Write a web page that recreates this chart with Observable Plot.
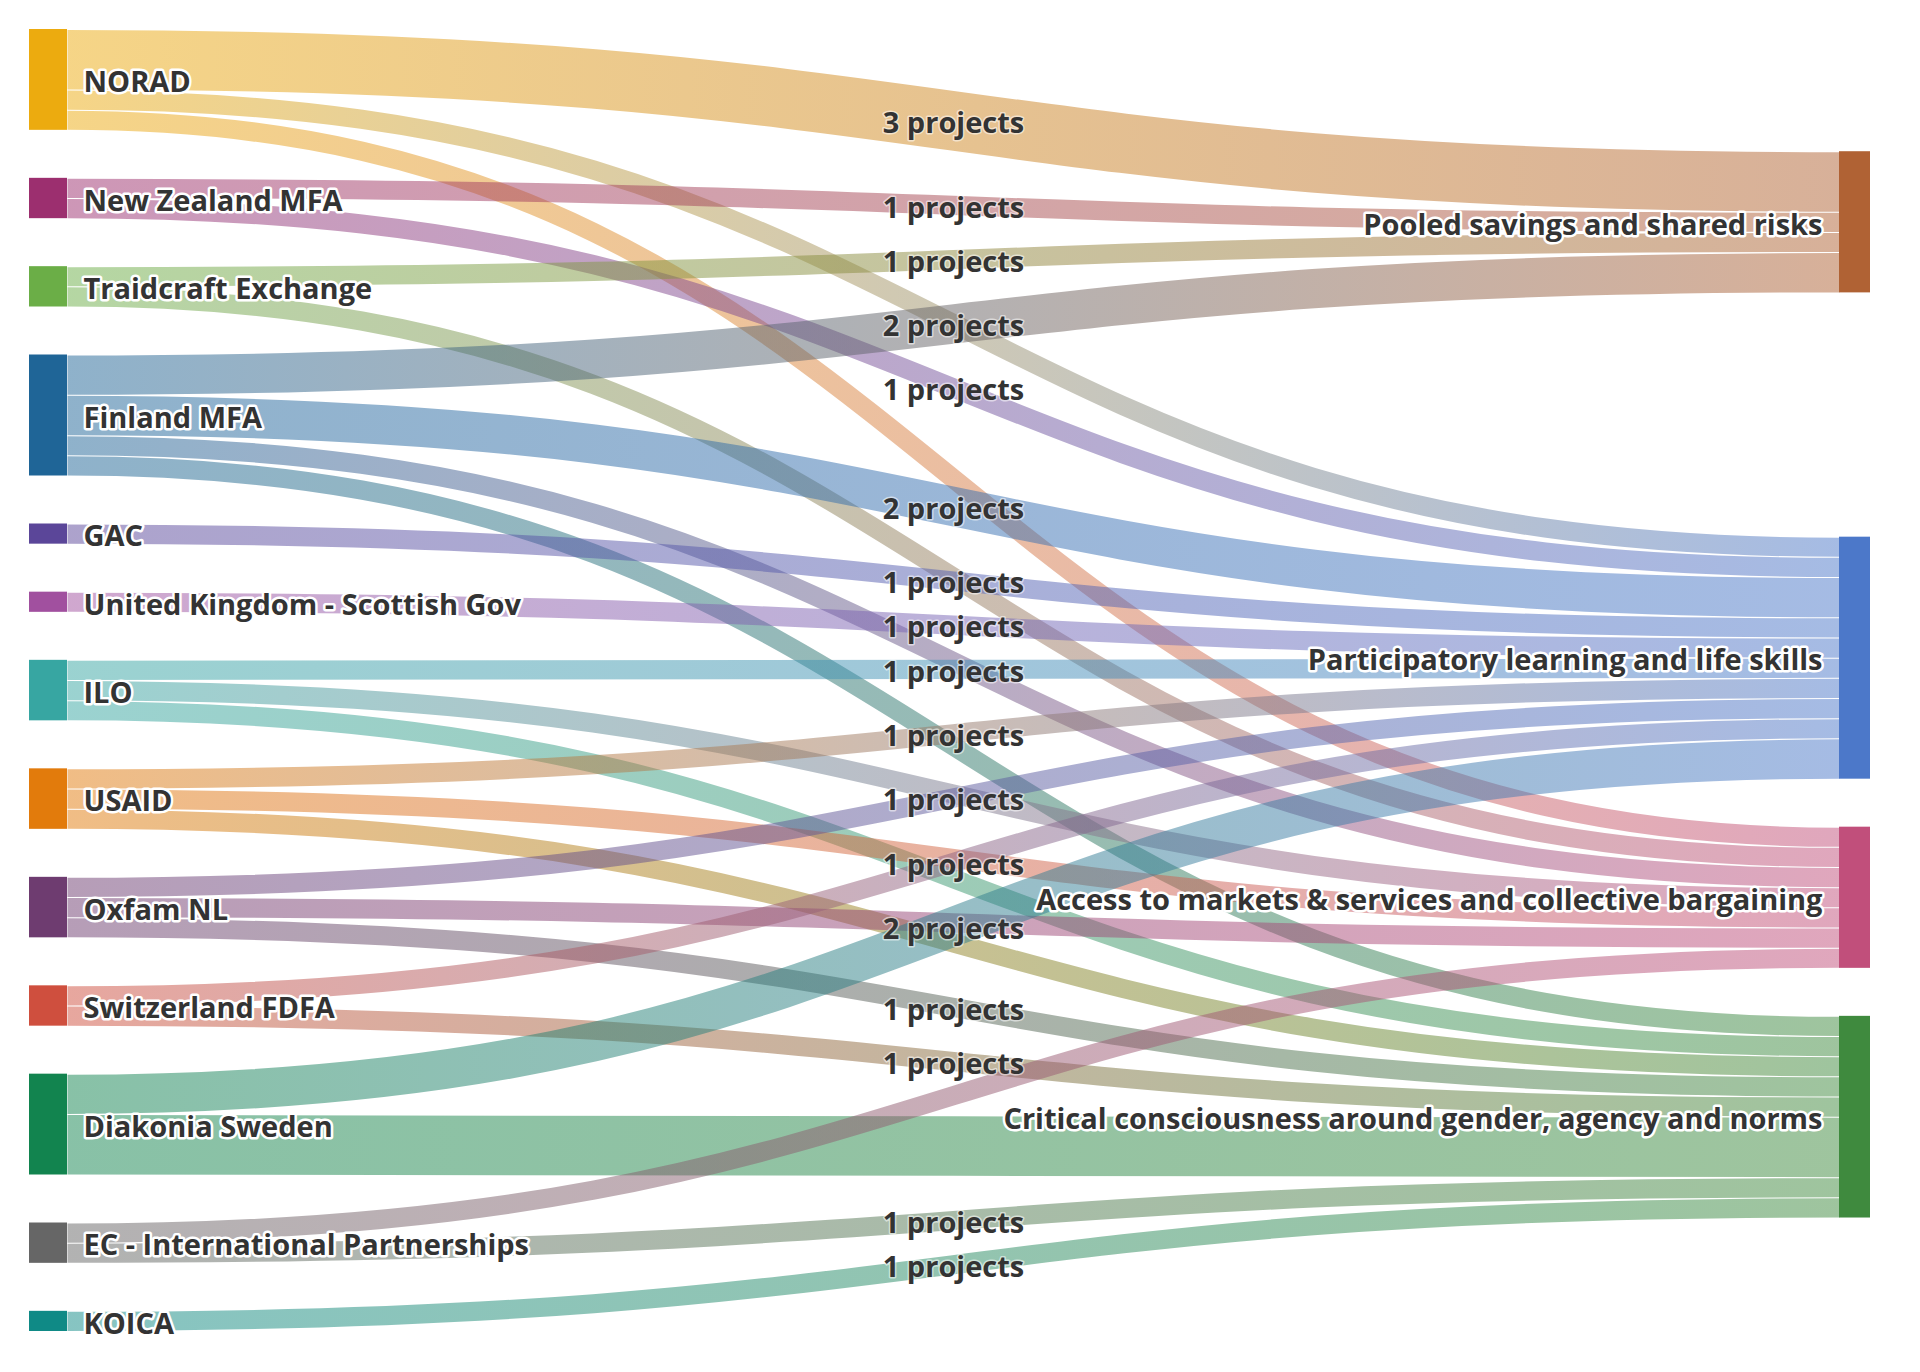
<!DOCTYPE html>
<html>
<head>
<meta charset="utf-8">
<script src="https://cdn.jsdelivr.net/npm/d3@7"></script>
<script src="https://cdn.jsdelivr.net/npm/@observablehq/plot@0.6"></script>
<style>
  html, body { margin: 0; padding: 0; background: #ffffff; }
  #chart svg { display: block; }
</style>
</head>
<body>
<div id="chart"></div>
<script>
// ---------------- DATA ----------------
const sourceNames = [
  "NORAD", "New Zealand MFA", "Traidcraft Exchange", "Finland MFA", "GAC",
  "United Kingdom - Scottish Gov", "ILO", "USAID", "Oxfam NL", "Switzerland FDFA",
  "Diakonia Sweden", "EC - International Partnerships", "KOICA"
];
const sourceColors = [
  "#ECAB0F", "#9C2F6F", "#6BAE47", "#1F6597", "#5B4699",
  "#A1509F", "#37A6A2", "#E27B0C", "#6E3C70", "#CF4F3E",
  "#12844F", "#666666", "#0F8A86"
];
const targetNames = [
  "Pooled savings and shared risks",
  "Participatory learning and life skills",
  "Access to markets & services and collective bargaining",
  "Critical consciousness around gender, agency and norms"
];
const targetColors = ["#B06234", "#4C78C9", "#C14F7B", "#3F8A3E"];

const PS = targetNames[0], PL = targetNames[1], AM = targetNames[2], CC = targetNames[3];
const linkSource = [
  "NORAD", "NORAD", "NORAD",
  "New Zealand MFA", "New Zealand MFA",
  "Traidcraft Exchange", "Traidcraft Exchange",
  "Finland MFA", "Finland MFA", "Finland MFA", "Finland MFA",
  "GAC",
  "United Kingdom - Scottish Gov",
  "ILO", "ILO", "ILO",
  "USAID", "USAID", "USAID",
  "Oxfam NL", "Oxfam NL", "Oxfam NL",
  "Switzerland FDFA", "Switzerland FDFA",
  "Diakonia Sweden", "Diakonia Sweden",
  "EC - International Partnerships", "EC - International Partnerships",
  "KOICA"
];
const linkTarget = [
  PS, PL, AM,
  PS, PL,
  PS, AM,
  PS, PL, AM, CC,
  PL,
  PL,
  PL, AM, CC,
  PL, AM, CC,
  PL, AM, CC,
  PL, CC,
  PL, CC,
  AM, CC,
  CC
];
const linkProjects = [
  3, 1, 1,
  1, 1,
  1, 1,
  2, 2, 1, 1,
  1,
  1,
  1, 1, 1,
  1, 1, 1,
  1, 1, 1,
  1, 1,
  2, 3,
  1, 1,
  1
];

// ---------------- STYLE ----------------
const W = 1920, H = 1372;
const extentTop = 29, extentBottom = 1331;
const nodePadding = 48;
const leftNodeWidth = 38, rightNodeWidth = 31;
const xLeft = 67, xRight = 1839;
const fontFamily = "'Open Sans', Lato, sans-serif";
const labelSize = 29;
const textColor = "#333333";

// ---------------- LAYOUT (sankey) ----------------
const nodes = [
  ...sourceNames.map((name, i) => ({name, color: sourceColors[i], col: 0, index: i})),
  ...targetNames.map((name, i) => ({name, color: targetColors[i], col: 1, index: i}))
];
const byKey = new Map(nodes.map(n => [n.col + "|" + n.name, n]));
const links = linkProjects.map((value, i) => ({
  i, value,
  source: byKey.get("0|" + linkSource[i]),
  target: byKey.get("1|" + linkTarget[i])
}));
for (const n of nodes) {
  n.out = links.filter(l => l.source === n);
  n.in = links.filter(l => l.target === n);
  n.value = Math.max(d3.sum(n.out, l => l.value), d3.sum(n.in, l => l.value));
}
const columns = [nodes.filter(n => n.col === 0), nodes.filter(n => n.col === 1)];
const ky = d3.min(columns, c => (extentBottom - extentTop - (c.length - 1) * nodePadding) / d3.sum(c, n => n.value));
const pad = nodePadding / ky;                       // padding in project units
const span = (extentBottom - extentTop) / ky;       // total span in project units

// left column stacked
{
  let y = 0;
  for (const n of columns[0]) { n.y0 = y; n.y1 = y + n.value; y = n.y1 + pad; }
}
// right column: centre on weighted mean of source centres, then resolve collisions
for (const n of columns[1]) {
  const c = d3.sum(n.in, l => l.value * (l.source.y0 + l.source.y1) / 2) / n.value;
  n.y0 = c - n.value / 2; n.y1 = c + n.value / 2;
}
{
  let y = 0;
  for (const n of columns[1]) { if (n.y0 < y) { const d = y - n.y0; n.y0 += d; n.y1 += d; } y = n.y1 + pad; }
  y = span;
  for (const n of [...columns[1]].reverse()) { if (n.y1 > y) { const d = n.y1 - y; n.y0 -= d; n.y1 -= d; } y = n.y0 - pad; }
}
// link breadths
for (const n of nodes) {
  n.out.sort((a, b) => a.target.y0 - b.target.y0);
  n.in.sort((a, b) => a.source.y0 - b.source.y0);
  let a = n.y0; for (const l of n.out) { l.ys = a + l.value / 2; a += l.value; }
  let b = n.y0; for (const l of n.in) { l.yt = b + l.value / 2; b += l.value; }
}
for (const l of links) { l.ym = (l.ys + l.yt) / 2; l.label = `${l.value} projects`; }

// ---------------- SCALES ----------------
const xOpts = {domain: [0, 1], range: [xLeft, xRight]};
const yOpts = {domain: [0, span], range: [extentTop, extentBottom]};
const sx = Plot.scale({x: xOpts});
const sy = Plot.scale({y: yOpts});

// ---------------- LABEL COLLISION ----------------
const ctx = document.createElement("canvas").getContext("2d");
ctx.font = `700 ${labelSize}px ${fontFamily}`;
const tw = s => ctx.measureText(s).width;
const boxH = labelSize + 7;
const tol = 6;
const placed = [];
for (const n of columns[0]) {
  const x0 = sx.apply(0) + 16, yc = sy.apply((n.y0 + n.y1) / 2);
  placed.push({x0, x1: x0 + tw(n.name), y0: yc - boxH / 2, y1: yc + boxH / 2});
}
for (const n of columns[1]) {
  const x1 = sx.apply(1) - 17, yc = sy.apply((n.y0 + n.y1) / 2);
  placed.push({x0: x1 - tw(n.name), x1, y0: yc - boxH / 2, y1: yc + boxH / 2});
}
const overlaps = (a, b) => a.x0 < b.x1 && b.x0 < a.x1 && a.y0 < b.y1 && b.y0 < a.y1;
const shownLinks = [];
// label priority: by target, then by source order
const order = d3.sort(links, (a, b) => a.target.index - b.target.index || a.source.index - b.source.index);
for (const l of order) {
  const w = tw(l.label), xc = sx.apply(0.5), yc = sy.apply(l.ym);
  const box = {x0: xc - w / 2 + tol, x1: xc + w / 2 - tol, y0: yc - boxH / 2, y1: yc + boxH / 2};
  if (placed.some(p => overlaps(p, box))) continue;
  placed.push(box);
  shownLinks.push(l);
}

// ---------------- PLOT ----------------
const textCommon = {
  fontSize: labelSize, fontWeight: 700, fontFamily, fill: textColor,
  stroke: "white", strokeWidth: 5, strokeLinejoin: "round", dy: 3
};
const chart = Plot.plot({
  width: W, height: H,
  marginTop: 0, marginRight: 0, marginBottom: 0, marginLeft: 0,
  x: {...xOpts, axis: null},
  y: {...yOpts, axis: null},
  color: {type: "identity"},
  style: {background: "#ffffff", fontFamily},
  marks: [
    ...links.map(l => Plot.link([l], {
      x1: () => 0, x2: () => 1, y1: "ys", y2: "yt",
      curve: "bump-x",
      stroke: `url(#lg${l.i})`,
      strokeWidth: l.value * ky - 1,
      strokeOpacity: 0.5
    })),
    Plot.rect(columns[0], {x1: () => 0, x2: () => 0, y1: "y0", y2: "y1", fill: "color", insetLeft: -leftNodeWidth}),
    Plot.rect(columns[1], {x1: () => 1, x2: () => 1, y1: "y0", y2: "y1", fill: "color", insetRight: -rightNodeWidth}),
    Plot.text(columns[0], {x: () => 0, y: d => (d.y0 + d.y1) / 2, text: "name", textAnchor: "start", dx: 16, ...textCommon}),
    Plot.text(columns[1], {x: () => 1, y: d => (d.y0 + d.y1) / 2, text: "name", textAnchor: "end", dx: -17, ...textCommon}),
    Plot.text(shownLinks, {
      x: () => 0.5, y: "ym", text: "label", textAnchor: "middle", dy: 3,
      fontSize: labelSize, fontWeight: 700, fontFamily, fill: textColor,
      stroke: "white", strokeWidth: 3, strokeOpacity: 0.55, strokeLinejoin: "round"
    })
  ]
});

// gradients for links (source colour -> target colour)
const gx = chart.scale("x");
const defs = d3.select(chart).insert("defs", ":first-child");
for (const l of links) {
  const g = defs.append("linearGradient")
    .attr("id", "lg" + l.i)
    .attr("gradientUnits", "userSpaceOnUse")
    .attr("x1", gx.apply(0)).attr("x2", gx.apply(1))
    .attr("y1", 0).attr("y2", 0);
  g.append("stop").attr("offset", 0).attr("stop-color", l.source.color);
  g.append("stop").attr("offset", 1).attr("stop-color", l.target.color);
}

document.getElementById("chart").appendChild(chart);
</script>
</body>
</html>
